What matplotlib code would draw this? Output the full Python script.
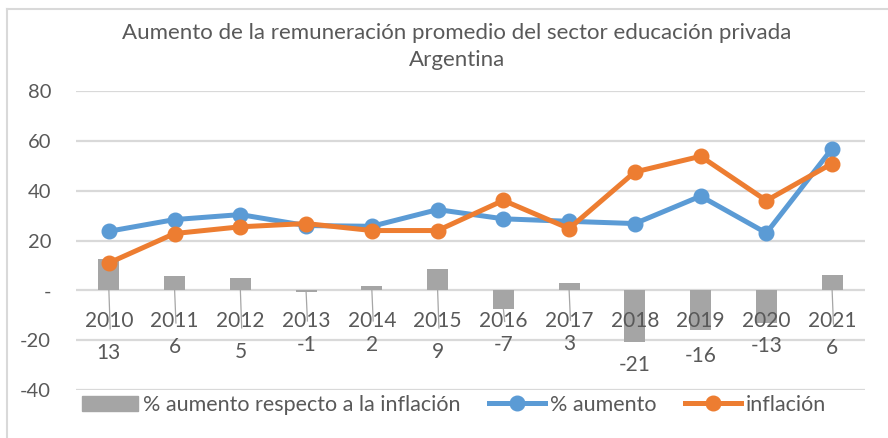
import matplotlib
matplotlib.use("Agg")
import matplotlib.pyplot as plt
from matplotlib.patches import Rectangle
from matplotlib.lines import Line2D
import numpy as np

years = ["2010", "2011", "2012", "2013", "2014", "2015",
         "2016", "2017", "2018", "2019", "2020", "2021"]
aumento = [23.7, 28.4, 30.4, 26.0, 25.7, 32.4, 28.7, 27.7, 26.8, 37.8, 23.0, 56.9]
inflacion = [11.0, 22.8, 25.5, 26.8, 24.0, 24.0, 36.1, 24.8, 47.5, 53.8, 36.0, 50.9]
diferencia = [12.7, 5.6, 4.9, -0.8, 1.7, 8.6, -7.4, 2.9, -20.7, -16.0, -13.0, 6.0]

# where Excel dropped the bar labels, and which got a leader line
label_y = [-25, -22.6, -24.6, -21.8, -21.8, -24.6, -22, -21.5, -30, -26.5, -22.5, -23]
leader = [True, True, True, True, True, True, True, True, False, False, False, True]

TEXT = "#595959"
GRID = "#D9D9D9"
BLUE = "#5B9BD5"
ORANGE = "#ED7D31"
GRAY = "#A5A5A5"
FONT = ["Lato", "DejaVu Sans"]

plt.rcParams["font.family"] = FONT

W, H = 888, 438
fig = plt.figure(figsize=(W / 100, H / 100), dpi=100)
ax = fig.add_axes([76 / W, 1 - 390 / H, (865 - 76) / W, (390 - 91) / H])

x = np.arange(len(years))
ax.set_xlim(-0.5, len(years) - 0.5)
ax.set_ylim(-40, 80)

ax.set_yticks([-40, -20, 0, 20, 40, 60, 80])
ax.set_yticklabels(["-40", "-20", "-", "20", "40", "60", "80"])
ax.yaxis.grid(True, color=GRID, linewidth=1.6)
ax.set_axisbelow(True)
ax.tick_params(axis="y", length=0, pad=18, labelsize=14.5, labelcolor=TEXT)
ax.set_xticks([])
for s in ax.spines.values():
    s.set_visible(False)

ax.bar(x, diferencia, width=0.32, color=GRAY, zorder=2)

ax.plot(x, aumento, color=BLUE, linewidth=3.6, marker="o", markersize=10.5, zorder=4)
ax.plot(x, inflacion, color=ORANGE, linewidth=3.6, marker="o", markersize=10.5, zorder=5)

for i, yr in enumerate(years):
    ax.text(x[i], -12.5, yr, ha="center", va="center", fontsize=15, color=TEXT, zorder=6)
    ax.text(x[i], label_y[i], f"{diferencia[i]:.0f}", ha="center", va="center",
            fontsize=15, color=TEXT, zorder=6)
    if leader[i]:
        y0 = min(0, diferencia[i])
        ax.plot([x[i], x[i] + 0.02], [y0, label_y[i] + 9.5], color="#A6A6A6",
                linewidth=0.9, zorder=3)

handles = [
    Rectangle((0, 0), 1, 1, color=GRAY),
    Line2D([], [], color=BLUE, linewidth=3.6, marker="o", markersize=10.5),
    Line2D([], [], color=ORANGE, linewidth=3.6, marker="o", markersize=10.5),
]
labels = ["% aumento respecto a la inflación", "% aumento", "inflación"]
leg = fig.legend(handles, labels, loc="center", bbox_to_anchor=(454 / W, 1 - 405 / H),
                 ncol=3, frameon=False, fontsize=15.5, handlelength=2.6,
                 handletextpad=0.25, columnspacing=1.3, labelcolor=TEXT)

fig.text(457 / W, 1 - 33 / H, "Aumento de la remuneración promedio del sector educación privada",
         ha="center", va="center", fontsize=16, color=TEXT)
fig.text(457 / W, 1 - 60 / H, "Argentina", ha="center", va="center", fontsize=16, color=TEXT)

# chart-area border, cropped at right and bottom
fig.add_artist(Line2D([7 / W, 1], [1 - 9 / H, 1 - 9 / H], transform=fig.transFigure,
                      color=GRID, linewidth=1.5))
fig.add_artist(Line2D([7 / W, 7 / W], [1 - 9 / H, 0], transform=fig.transFigure,
                      color=GRID, linewidth=1.5))

fig.savefig("out.png", dpi=100)
